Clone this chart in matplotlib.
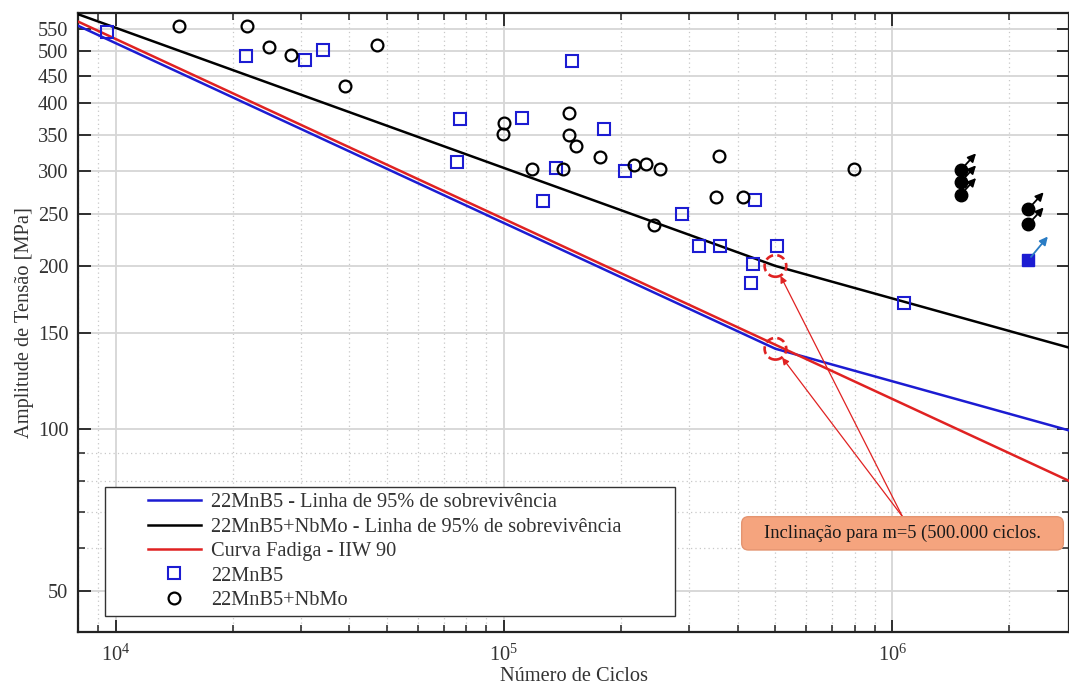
import matplotlib
matplotlib.use("Agg")
import matplotlib.pyplot as plt
from matplotlib.ticker import FixedLocator, NullFormatter, LogLocator, FixedFormatter
from matplotlib.patches import Circle, FancyBboxPatch
from matplotlib.offsetbox import DrawingArea, AnnotationBbox
from matplotlib.legend_handler import HandlerLine2D
from matplotlib.lines import Line2D

plt.rcParams['font.family'] = ['Liberation Serif', 'DejaVu Serif']
plt.rcParams['mathtext.fontset'] = 'stix'

# ---- test results: 22MnB5 (cycles, stress amplitude in MPa)
mnb5_cycles = [9500, 21600, 30800, 34200, 75700, 77200, 111400, 126000, 136200,
               149300, 181400, 204600, 287000, 317000, 359000, 431500, 437500,
               441800, 505000, 1074000]
mnb5_stress = [542, 490, 482, 503, 311, 375, 376, 264, 304,
               480, 359, 300, 250, 218, 218, 186, 202,
               265, 218, 171]
mnb5_runout_cycles = [2240000]
mnb5_runout_stress = [205]

# ---- test results: 22MnB5+NbMo
nbmo_cycles = [14600, 21800, 24800, 28300, 38900, 47200, 99600, 100000, 117800,
               141500, 147000, 147200, 153400, 176300, 216200, 231700, 243500,
               252200, 350700, 357500, 413000, 798800]
nbmo_stress = [557, 557, 509, 491, 430, 513, 351, 368, 302,
               302, 350, 384, 334, 318, 307, 309, 238,
               302, 268, 319, 268, 302]
nbmo_runout_cycles = [1500000, 1500000, 1500000, 2240000, 2240000]
nbmo_runout_stress = [301, 286, 271, 255, 239]

# ---- design curves (end points and knee at 500.000 cycles)
curve_cycles = [8000, 500000, 2850000]
mnb5_curve = [557, 140.5, 99.2]
nbmo_curve = [585, 200, 141.2]
iiw_cycles = [8000, 2850000]
iiw_curve = [567, 80.0]

y_ticks = [50, 100, 150, 200, 250, 300, 350, 400, 450, 500, 550]
y_minor = [60, 70, 80, 90]

labels = ['22MnB5 - Linha de 95% de sobrevivência',
          '22MnB5+NbMo - Linha de 95% de sobrevivência',
          'Curva Fadiga - IIW 90',
          '22MnB5',
          '22MnB5+NbMo']

BLUE = '#1c1cd2'
RED = '#e02222'
FS = 14.7

fig = plt.figure(figsize=(10.69, 6.97), dpi=100)
ax = fig.add_axes([78 / 1069, 1 - 632 / 697, (1069 - 78) / 1069, (632 - 13) / 697])
ax.set_xscale('log')
ax.set_yscale('log')
ax.set_xlim(8000, 2.85e6)
ax.set_ylim(42, 588)

l1, = ax.plot(curve_cycles, mnb5_curve, color=BLUE, lw=1.8, label=labels[0], zorder=3)
l2, = ax.plot(curve_cycles, nbmo_curve, color='black', lw=1.8, label=labels[1], zorder=3)
l3, = ax.plot(iiw_cycles, iiw_curve, color=RED, lw=1.8, label=labels[2], zorder=3)
m1, = ax.plot(mnb5_cycles, mnb5_stress, ls='none', marker='s', ms=8, mfc='none',
              mec=BLUE, mew=1.5, label=labels[3], zorder=4)
m2, = ax.plot(nbmo_cycles, nbmo_stress, ls='none', marker='o', ms=8.5, mfc='none',
              mec='black', mew=1.6, label=labels[4], zorder=4)

# run-outs (test stopped without failure)
ax.plot(mnb5_runout_cycles, mnb5_runout_stress, ls='none', marker='s', ms=8,
        mfc=BLUE, mec=BLUE, zorder=4)
ax.plot(nbmo_runout_cycles, nbmo_runout_stress, ls='none', marker='o', ms=9,
        mfc='black', mec='black', zorder=4)
for n, s in zip(nbmo_runout_cycles, nbmo_runout_stress):
    ax.annotate('', xy=(n, s), xytext=(11, 12), textcoords='offset points',
                arrowprops=dict(arrowstyle='<|-', color='black', lw=1.3,
                                shrinkA=0, shrinkB=3, mutation_scale=12), zorder=5)
for n, s in zip(mnb5_runout_cycles, mnb5_runout_stress):
    ax.annotate('', xy=(n, s), xytext=(14, 17), textcoords='offset points',
                arrowprops=dict(arrowstyle='<|-', color='#2a7cc4', lw=1.3,
                                shrinkA=0, shrinkB=3, mutation_scale=12), zorder=5)

# axes styling
ax.yaxis.set_major_locator(FixedLocator(y_ticks))
ax.yaxis.set_major_formatter(FixedFormatter([str(v) for v in y_ticks]))
ax.yaxis.set_minor_locator(FixedLocator(y_minor))
ax.yaxis.set_minor_formatter(NullFormatter())
ax.xaxis.set_major_locator(LogLocator(base=10))
ax.xaxis.set_minor_locator(LogLocator(base=10, subs=range(2, 10)))
ax.xaxis.set_minor_formatter(NullFormatter())

ax.tick_params(which='both', direction='in', top=True, right=True, colors='#222222',
               labelcolor='#333333', labelsize=FS)
ax.tick_params(which='major', length=9, width=1.3)
ax.tick_params(which='minor', length=5, width=1.1)
ax.tick_params(axis='x', which='major', pad=9)
ax.tick_params(axis='y', which='major', pad=7)
for sp in ax.spines.values():
    sp.set_linewidth(1.6)
    sp.set_color('#222222')

ax.set_axisbelow(True)
ax.grid(which='major', color='#d6d6d6', lw=1.3, ls='-')
ax.grid(which='minor', color='#c8c8c8', lw=0.9, ls=(0, (1, 2.5)))

ax.set_xlabel('Número de Ciclos', fontsize=FS, color='#333333', labelpad=1)
ax.set_ylabel('Amplitude de Tensão [MPa]', fontsize=FS, color='#333333', labelpad=3)

# legend
leg = ax.legend(handles=[l1, l2, l3, m1, m2], loc='lower left',
                bbox_to_anchor=(0.0272, 0.0258, 0.575, 0.2), mode='expand',
                borderaxespad=0, fontsize=FS, handlelength=4.4, handletextpad=0.5,
                labelspacing=0.25, numpoints=1, fancybox=False, framealpha=1,
                edgecolor='#333333', borderpad=0.3,
                handler_map={Line2D: HandlerLine2D(xpad=1.8)})
leg.get_frame().set_linewidth(1.0)
for t in leg.get_texts():
    t.set_color('#333333')

# knee markers at 500.000 cycles
knee_n = curve_cycles[1]
for s in (nbmo_curve[1], mnb5_curve[1]):
    da = DrawingArea(22, 22, 0, 0)
    da.add_artist(Circle((11, 11), 7.8, fc='none', ec=RED, lw=1.9, ls=(0, (3, 1.6))))
    ax.add_artist(AnnotationBbox(da, (knee_n, s), xycoords='data', frameon=False,
                                 pad=0, box_alignment=(0.5, 0.5), zorder=6))

# callout box
box = FancyBboxPatch((0.6697, 0.1325), 0.3246, 0.0538, transform=ax.transAxes,
                     boxstyle='round,pad=0,rounding_size=0.007', mutation_aspect=991 / 619,
                     fc='#f5a47e', ec='#e49470', lw=1.0, zorder=7)
ax.add_patch(box)
ax.text(0.832, 0.1594, 'Inclinação para m=5 (500.000 ciclos.', transform=ax.transAxes,
        ha='center', va='center', fontsize=13.3, color='#1a1a1a', zorder=8)
for s in (nbmo_curve[1], mnb5_curve[1]):
    ax.annotate('', xy=(knee_n, s), xycoords='data', xytext=(0.832, 0.1863),
                textcoords='axes fraction',
                arrowprops=dict(arrowstyle='-|>', color=RED, lw=0.9, shrinkA=0,
                                shrinkB=8, mutation_scale=10), zorder=6)

fig.savefig('out.png', dpi=100)
